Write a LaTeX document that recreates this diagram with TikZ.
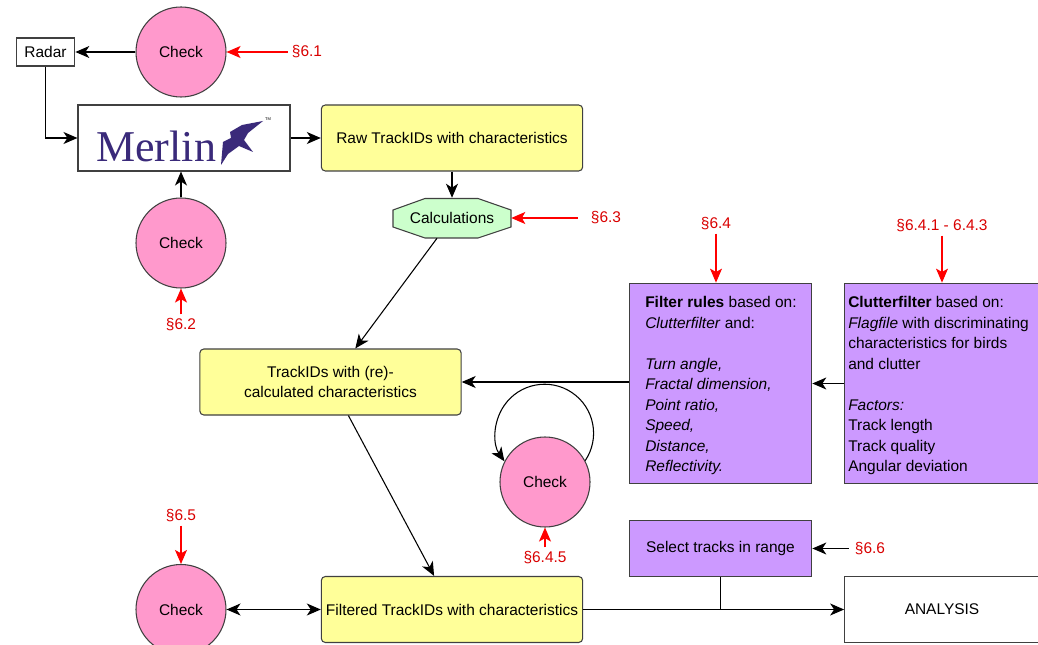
\documentclass[tikz,border=0pt]{standalone}
\usepackage{fontspec}
\setmainfont{Liberation Sans}
\newfontfamily\logofont{Liberation Serif}
\usetikzlibrary{arrows.meta}
\definecolor{checkpink}{HTML}{FF99CC}
\definecolor{stepyellow}{HTML}{FFFF99}
\definecolor{calcgreen}{HTML}{CCFFCC}
\definecolor{filterpurple}{HTML}{CC99FF}
\definecolor{logopurple}{HTML}{3A2A7A}
\tikzset{
  edgeline/.style={draw=black!75,line width=0.8pt},
  checknode/.style={circle,edgeline,fill=checkpink,minimum size=67.5pt,inner sep=0pt},
  stepnode/.style={rounded corners=3pt,edgeline,fill=stepyellow,minimum width=196pt,minimum height=49.5pt,inner sep=0pt,align=center},
  filternode/.style={edgeline,fill=filterpurple,inner sep=0pt},
  plainnode/.style={edgeline,fill=white,inner sep=0pt},
  ref/.style={text=red!85!black,inner sep=0pt},
  link/.style={-{Stealth[length=10.5pt,width=9pt,inset=3pt]},line width=0.8pt,black},
  reflink/.style={-{Stealth[length=10.5pt,width=9pt,inset=2.5pt]},line width=0.8pt,red},
}
\begin{document}
\begin{tikzpicture}[x=0.75pt,y=0.75pt,font=\fontsize{11.6}{15.4}\selectfont]
        \useasboundingbox (0,0) rectangle (1038,-645);
        % top row
        \node[plainnode,minimum width=44pt,minimum height=21pt] (radar) at (45.5,-52) {Radar};
        \node[checknode] (checkA) at (181,-52) {Check};
        \node[plainnode,minimum width=159pt,minimum height=49.5pt] (merlin) at (184,-138) {};
        \node[stepnode] (raw) at (452,-138) {Raw TrackIDs with characteristics};
        \node[checknode] (checkB) at (181,-243) {Check};
        \draw[edgeline,fill=calcgreen] (393,-210) -- (425,-198.5) -- (478,-198.5) -- (511,-210) -- (511,-227) -- (478,-238) -- (425,-238) -- (393,-227) -- cycle;
        \node[minimum width=88.5pt,minimum height=30pt,inner sep=0pt] (calc) at (452,-218) {Calculations};
        % logo
        \node[font=\logofont\fontsize{33}{33}\selectfont,text=logopurple,anchor=base west,inner sep=0pt] (logo) at (96,-162) {Merlin};
        \fill[logopurple] (221,-165) -- (223,-142) -- (231,-138) -- (230,-132) -- (242,-125) -- (263,-121) -- (248,-133) -- (244,-140) -- (253,-152) -- (239,-146) -- (228,-154) -- cycle;
        \node[font=\fontsize{3}{3}\selectfont,inner sep=0pt] (tm) at (268,-119) {TM};
        % middle row
        \node[stepnode] (tracks) at (330.5,-382) {TrackIDs with (re)-\\calculated characteristics};
        \node[filternode,minimum width=137pt,minimum height=150.5pt] (rules) at (720.5,-383.5) {};
        \node[filternode,minimum width=146pt,minimum height=150.5pt] (clutter) at (942,-383.5) {};
        \node[anchor=north west,inner sep=0pt,align=left] (rulestext) at (645,-296) {\textbf{Filter rules} based on:\\\textit{Clutterfilter} and:\\[15.4pt]\textit{Turn angle,}\\\textit{Fractal dimension,}\\\textit{Point ratio,}\\\textit{Speed,}\\\textit{Distance,}\\\textit{Reflectivity.}};
        \node[anchor=north west,inner sep=0pt,align=left] (cluttertext) at (848,-296) {\textbf{Clutterfilter} based on:\\\textit{Flagfile} with discriminating\\characteristics for birds\\and clutter\\[15.4pt]\textit{Factors:}\\Track length\\Track quality\\Angular deviation};
        \node[checknode] (checkC) at (545,-482) {Check};
        % bottom row
        \node[filternode,minimum width=137pt,minimum height=42pt] (select) at (720.5,-548.5) {Select tracks in range};
        \node[checknode] (checkD) at (181,-609.5) {Check};
        \node[stepnode] (filtered) at (452,-609.5) {Filtered TrackIDs with characteristics};
        \node[plainnode,minimum width=146pt,minimum height=50pt] (analysis) at (942,-609.5) {ANALYSIS};
        % section labels
        \node[ref] (refA) at (307,-52) {§6.1};
        \node[ref] (refB) at (181,-325) {§6.2};
        \node[ref] (refC) at (606,-218) {§6.3};
        \node[ref] (refD) at (716,-224) {§6.4};
        \node[ref] (refE) at (942,-226) {§6.4.1 - 6.4.3};
        \node[ref] (refF) at (545,-558) {§6.4.5};
        \node[ref] (refG) at (181,-516) {§6.5};
        \node[ref] (refH) at (870,-548.5) {§6.6};
        % connectors
        \draw[link] (checkA) -- (radar);
        \draw[link] (radar.south) |- (merlin.west);
        \draw[link] (merlin) -- (raw);
        \draw[link] (checkB) -- (checkB |- merlin.south);
        \draw[link] (raw) -- (calc);
        \draw[link] (calc) -- (tracks);
        \draw[link] (rules.west |- tracks.east) -- (tracks.east);
        \draw[link] (clutter) -- (rules);
        \draw[link] (tracks) -- (filtered);
        \draw[{Stealth[length=10.5pt,width=9pt,inset=3pt]}-{Stealth[length=10.5pt,width=9pt,inset=3pt]},line width=0.8pt] (checkD) -- (filtered);
        \draw[link] (filtered) -- (analysis);
        \coordinate (join) at (select.south |- filtered.east);
        \draw[line width=0.8pt] (select.south) -- (join);
        \draw[link] (checkC.28) arc[start angle=-34,end angle=215,radius=49];
        \draw[reflink] (refA.west) ++(-4,0) -- (checkA);
        \draw[reflink] (refB.north) ++(0,4) -- (checkB);
        \draw[reflink] (refC.west) ++(-13,0) -- (calc);
        \draw[reflink] (refD.south) ++(0,-3) -- (rules.north -| refD.south);
        \draw[reflink] (refE.south) ++(0,-3) -- (clutter);
        \draw[reflink] (refF.north) ++(0,4) -- (checkC);
        \draw[reflink] (refG.south) ++(0,-3) -- (checkD);
        \draw[link] (refH.west) ++(-6,0) -- (select);
\end{tikzpicture}
\end{document}
